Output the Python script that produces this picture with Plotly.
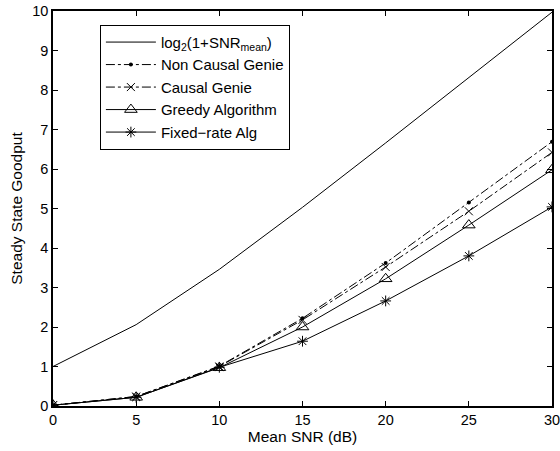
import numpy as np
import plotly.graph_objects as go

# Mean SNR grid (dB)
snr_db = [0, 5, 10, 15, 20, 25, 30]

# Capacity bound log2(1 + SNR_mean)
capacity = [1.0, 2.06, 3.46, 5.03, 6.66, 8.31, 9.97]

# Steady state goodput of each scheme
non_causal_genie = [0.02, 0.24, 1.01, 2.22, 3.62, 5.15, 6.69]
causal_genie = [0.02, 0.24, 1.00, 2.18, 3.52, 4.93, 6.42]
greedy_alg = [0.02, 0.22, 0.97, 2.00, 3.22, 4.58, 5.98]
fixed_rate_alg = [0.02, 0.22, 0.98, 1.64, 2.66, 3.80, 5.04]

x_ticks = [0, 5, 10, 15, 20, 25, 30]
y_ticks = list(range(0, 11))

FONT = "Liberation Sans, Arial, Helvetica, sans-serif"

fig = go.Figure()

fig.add_trace(go.Scatter(
    x=snr_db, y=capacity, mode="lines",
    name="log<sub>2</sub>(1+SNR<sub>mean</sub>)",
    line=dict(color="black", width=1),
))
fig.add_trace(go.Scatter(
    x=snr_db, y=non_causal_genie, mode="lines+markers",
    name="Non Causal Genie",
    line=dict(color="black", width=1, dash="dashdot"),
    marker=dict(symbol="circle", size=4, color="black"),
))
fig.add_trace(go.Scatter(
    x=snr_db, y=causal_genie, mode="lines+markers",
    name="Causal Genie",
    line=dict(color="black", width=1, dash="dashdot"),
    marker=dict(symbol="x-thin-open", size=8, color="black",
                line=dict(color="black", width=1)),
))
fig.add_trace(go.Scatter(
    x=snr_db, y=greedy_alg, mode="lines+markers",
    name="Greedy Algorithm",
    line=dict(color="black", width=1),
    marker=dict(symbol="triangle-up-open", size=11, color="black",
                line=dict(color="black", width=1)),
))
fig.add_trace(go.Scatter(
    x=snr_db, y=fixed_rate_alg, mode="lines+markers",
    name="Fixed\u2212rate Alg",
    line=dict(color="black", width=1),
    marker=dict(symbol="asterisk-open", size=9, color="black",
                line=dict(color="black", width=1)),
))

axis_common = dict(
    showgrid=False, zeroline=False, automargin=False,
    ticklabeloverflow="allow",
    showline=True, linecolor="black", linewidth=1.5,
    mirror="ticks", ticks="inside", ticklen=5, tickcolor="black",
    tickfont=dict(family=FONT, size=14.5, color="black"),
)

fig.update_xaxes(
    range=[0, 30], tickvals=x_ticks, ticktext=[str(v) for v in x_ticks],
    title=dict(text="Mean SNR (dB)", font=dict(family=FONT, size=15.5, color="black"),
               standoff=2),
    **axis_common,
)
fig.update_yaxes(
    range=[0, 10], tickvals=y_ticks, ticktext=[str(v) for v in y_ticks],
    title=dict(text="Steady State Goodput", font=dict(family=FONT, size=15.5, color="black"),
               standoff=6),
    **axis_common,
)

fig.update_layout(
    width=560, height=451,
    margin=dict(l=53, r=8, t=11, b=45),
    paper_bgcolor="white", plot_bgcolor="white",
    font=dict(family=FONT, color="black"),
    legend=dict(
        x=0.094, y=0.965, xanchor="left", yanchor="top",
        bgcolor="white", bordercolor="black", borderwidth=1,
        font=dict(family=FONT, size=15, color="black"),
        tracegroupgap=0, itemwidth=50,
    ),
)

fig.write_html("out.html")
